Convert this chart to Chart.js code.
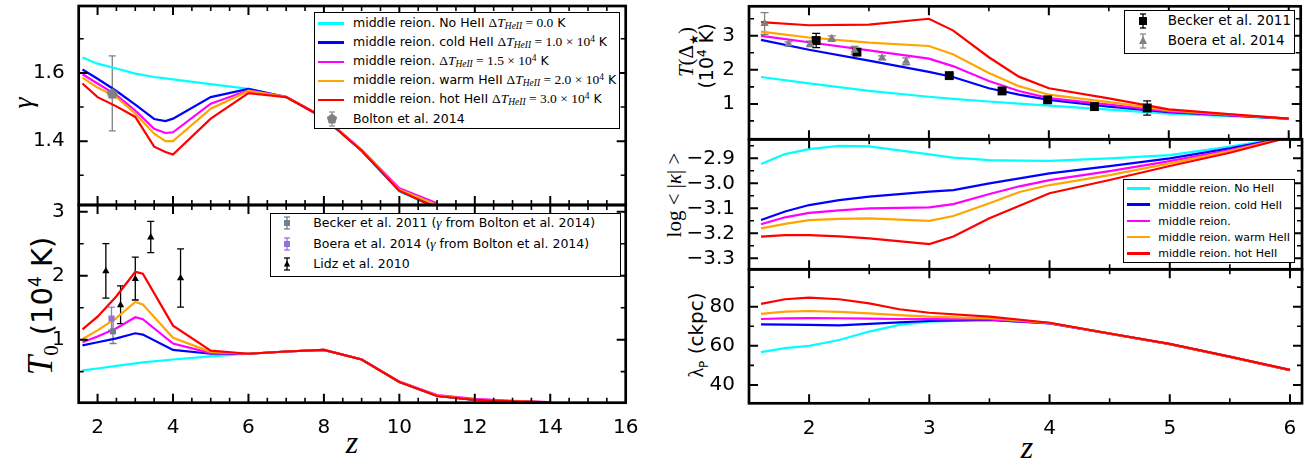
<!DOCTYPE html>
<html><head><meta charset="utf-8">
<script src="https://cdn.jsdelivr.net/npm/chart.js@4.4.1/dist/chart.umd.min.js"></script>
<style>
html,body{margin:0;padding:0;background:#fff;}
body{width:1307px;height:464px;overflow:hidden;position:relative;font-family:"DejaVu Sans",sans-serif;color:#000;}
canvas{position:absolute;}
.ttl{position:absolute;white-space:nowrap;transform:translate(-50%,-50%);line-height:1;}
.rot{transform:translate(-50%,-50%) rotate(-90deg);}
.serif{font-family:"Liberation Serif","DejaVu Serif",serif;}
.legend{position:absolute;border:1px solid #000;background:#fff;box-sizing:border-box;z-index:5;}
.row{position:absolute;left:0;height:0;width:100%;}
.sw{position:absolute;height:2.5px;margin-top:-1.25px;}
.tx{position:absolute;white-space:nowrap;transform:translateY(-50%);line-height:1;}
.mt{font-family:"Liberation Serif",serif;font-size:1.08em;}
.mt sub{font-size:0.7em;vertical-align:-0.25em;font-style:italic;}
.mt sup{font-size:0.7em;vertical-align:0.45em;}
.mk{position:absolute;transform:translate(-50%,-50%);}
</style>
</head><body>

<!-- axis titles -->
<div class="ttl rot serif" style="left:23px;top:103px;font-size:28px;font-style:italic;">γ</div>
<div class="ttl rot" style="left:40px;top:306px;font-size:29px;"><span class="serif" style="font-style:italic;font-size:35px;">T</span><span class="serif" style="font-size:21px;position:relative;top:6px;">0</span><span style="display:inline-block;width:10px;"></span>(10<sup style="font-size:17px;">4</sup> K)</div>
<div class="ttl serif" style="left:352px;top:442px;font-size:32px;font-style:italic;">z</div>
<div class="ttl serif" style="left:1027px;top:447px;font-size:32px;font-style:italic;">z</div>
<div class="ttl rot serif" style="left:688px;top:52px;font-size:21px;"><i>T</i>(Δ<sub style="font-size:12px;">★</sub>)</div>
<div class="ttl rot" style="left:706px;top:56px;font-size:19px;">(10<sup style="font-size:12px;">4</sup> K)</div>
<div class="ttl rot serif" style="left:674px;top:195px;font-size:21px;">log &lt; |<i>κ</i>| &gt;</div>
<div class="ttl rot" style="left:698px;top:335px;font-size:20px;"><span class="serif">λ</span><sub style="font-size:12px;">P</sub> (ckpc)</div>

<!-- legends -->
<div class="legend" style="left:314px;top:12px;width:306px;height:117px;font-size:12.5px;">
  <div class="row" style="top:10.5px"><div class="sw" style="left:3px;width:26px;background:#00ffff"></div><span class="tx" style="left:38px">middle reion. No HeII <span class="mt">Δ<i>T</i><sub>HeII</sub> = 0.0</span> K</span></div>
  <div class="row" style="top:29.7px"><div class="sw" style="left:3px;width:26px;background:#0000ff"></div><span class="tx" style="left:38px">middle reion. cold HeII <span class="mt">Δ<i>T</i><sub>HeII</sub> = 1.0 × 10<sup>4</sup></span> K</span></div>
  <div class="row" style="top:48.8px"><div class="sw" style="left:3px;width:26px;background:#ff00ff"></div><span class="tx" style="left:38px">middle reion. <span class="mt">Δ<i>T</i><sub>HeII</sub> = 1.5 × 10<sup>4</sup></span> K</span></div>
  <div class="row" style="top:68px"><div class="sw" style="left:3px;width:26px;background:#ffa500"></div><span class="tx" style="left:38px">middle reion. warm HeII <span class="mt">Δ<i>T</i><sub>HeII</sub> = 2.0 × 10<sup>4</sup></span> K</span></div>
  <div class="row" style="top:87.1px"><div class="sw" style="left:3px;width:26px;background:#ff0000"></div><span class="tx" style="left:38px">middle reion. hot HeII <span class="mt">Δ<i>T</i><sub>HeII</sub> = 3.0 × 10<sup>4</sup></span> K</span></div>
  <div class="row" style="top:106.3px"><svg class="mk" style="left:16.5px" width="14" height="16" viewBox="0 0 14 16"><line x1="7" y1="1" x2="7" y2="15" stroke="#888" stroke-width="1.2"/><line x1="4" y1="1" x2="10" y2="1" stroke="#888" stroke-width="1.2"/><line x1="4" y1="15" x2="10" y2="15" stroke="#888" stroke-width="1.2"/><polygon points="7,2.5 12.2,6.3 10.2,12.4 3.8,12.4 1.8,6.3" fill="#808080"/></svg><span class="tx" style="left:38px">Bolton et al. 2014</span></div>
</div>

<div class="legend" style="left:270px;top:213px;width:351px;height:64px;font-size:12.5px;">
  <div class="row" style="top:9.3px"><svg class="mk" style="left:16.3px" width="10" height="14" viewBox="0 0 10 14"><line x1="5" y1="1" x2="5" y2="13" stroke="#708090" stroke-width="1.3"/><line x1="2" y1="1" x2="8" y2="1" stroke="#708090" stroke-width="1.3"/><line x1="2" y1="13" x2="8" y2="13" stroke="#708090" stroke-width="1.3"/><rect x="2" y="4" width="6" height="6" fill="#708090"/></svg><span class="tx" style="left:42.3px">Becker et al. 2011 (<span class="mt"><i>γ</i></span> from Bolton et al. 2014)</span></div>
  <div class="row" style="top:30px"><svg class="mk" style="left:16.3px" width="10" height="14" viewBox="0 0 10 14"><line x1="5" y1="1" x2="5" y2="13" stroke="#9370db" stroke-width="1.3"/><line x1="2" y1="1" x2="8" y2="1" stroke="#9370db" stroke-width="1.3"/><line x1="2" y1="13" x2="8" y2="13" stroke="#9370db" stroke-width="1.3"/><rect x="2" y="4" width="6" height="6" fill="#9370db"/></svg><span class="tx" style="left:42.3px">Boera et al. 2014 (<span class="mt"><i>γ</i></span> from Bolton et al. 2014)</span></div>
  <div class="row" style="top:50.3px"><svg class="mk" style="left:16.3px" width="10" height="14" viewBox="0 0 10 14"><line x1="5" y1="1" x2="5" y2="13" stroke="#000" stroke-width="1.3"/><line x1="2" y1="1" x2="8" y2="1" stroke="#000" stroke-width="1.3"/><line x1="2" y1="13" x2="8" y2="13" stroke="#000" stroke-width="1.3"/><polygon points="5,3.5 8.2,9.5 1.8,9.5" fill="#000"/></svg><span class="tx" style="left:42.3px">Lidz et al. 2010</span></div>
</div>

<div class="legend" style="left:1124px;top:10px;width:171px;height:44px;font-size:13.5px;">
  <div class="row" style="top:10.3px"><svg class="mk" style="left:18.3px" width="12" height="18" viewBox="0 0 12 18"><line x1="6" y1="2" x2="6" y2="16" stroke="#000" stroke-width="1.3"/><line x1="3" y1="2" x2="9" y2="2" stroke="#000" stroke-width="1.3"/><line x1="3" y1="16" x2="9" y2="16" stroke="#000" stroke-width="1.3"/><rect x="2" y="5" width="8" height="8" fill="#000"/></svg><span class="tx" style="left:42.7px">Becker et al. 2011</span></div>
  <div class="row" style="top:29.7px"><svg class="mk" style="left:18.3px" width="12" height="18" viewBox="0 0 12 18"><line x1="6" y1="2" x2="6" y2="16" stroke="#888" stroke-width="1.3"/><line x1="3" y1="2" x2="9" y2="2" stroke="#888" stroke-width="1.3"/><line x1="3" y1="16" x2="9" y2="16" stroke="#888" stroke-width="1.3"/><polygon points="6,4 10,12 2,12" fill="#808080"/></svg><span class="tx" style="left:42.7px">Boera et al. 2014</span></div>
</div>

<div class="legend" style="left:1123px;top:179.3px;width:172px;height:84px;font-size:11px;">
  <div class="row" style="top:8px"><div class="sw" style="left:2.7px;width:23.3px;background:#00ffff"></div><span class="tx" style="left:34.3px">middle reion. No HeII</span></div>
  <div class="row" style="top:24.25px"><div class="sw" style="left:2.7px;width:23.3px;background:#0000ff"></div><span class="tx" style="left:34.3px">middle reion. cold HeII</span></div>
  <div class="row" style="top:40.5px"><div class="sw" style="left:2.7px;width:23.3px;background:#ff00ff"></div><span class="tx" style="left:34.3px">middle reion.</span></div>
  <div class="row" style="top:56.75px"><div class="sw" style="left:2.7px;width:23.3px;background:#ffa500"></div><span class="tx" style="left:34.3px">middle reion. warm HeII</span></div>
  <div class="row" style="top:73px"><div class="sw" style="left:2.7px;width:23.3px;background:#ff0000"></div><span class="tx" style="left:34.3px">middle reion. hot HeII</span></div>
</div>

<script>
// ---------------- DATA ----------------
const seriesNames = ['middle reion. No HeII', 'middle reion. cold HeII', 'middle reion.', 'middle reion. warm HeII', 'middle reion. hot HeII'];
const seriesColors = ['#00ffff', '#0000ff', '#ff00ff', '#ffa500', '#ff0000'];

// Left top: gamma vs z
const zGamma = [1.6, 2.0, 2.5, 3.0, 3.5, 3.8, 4.0, 5.0, 6.0, 7.0, 8.0, 9.0, 10.0, 11.0];
const gammaNo   = [1.645, 1.627, 1.613, 1.598, 1.588, 1.584, 1.581, 1.567, 1.553, 1.529, 1.468, 1.372, 1.252, 1.205];
const gammaCold = [1.610, 1.583, 1.547, 1.507, 1.465, 1.459, 1.466, 1.529, 1.553, 1.529, 1.468, 1.372, 1.255, 1.206];
const gammaMid  = [1.596, 1.569, 1.535, 1.490, 1.436, 1.424, 1.426, 1.510, 1.549, 1.530, 1.470, 1.375, 1.262, 1.218];
const gammaWarm = [1.586, 1.557, 1.529, 1.481, 1.422, 1.400, 1.400, 1.495, 1.547, 1.530, 1.469, 1.373, 1.258, 1.213];
const gammaHot  = [1.569, 1.529, 1.502, 1.471, 1.384, 1.368, 1.361, 1.466, 1.541, 1.529, 1.468, 1.372, 1.255, 1.203];
const boltonZ = [2.39], boltonGamma = [1.54], boltonErr = [0.11];

// Left bottom: T0 (1e4 K) vs z
const zT0 = [1.6, 2.0, 2.5, 3.0, 3.2, 4.0, 5.0, 6.0, 7.0, 8.0, 9.0, 10.0, 11.0, 12.0, 13.0, 14.0];
const t0No   = [0.52, 0.55, 0.59, 0.63, 0.645, 0.69, 0.74, 0.78, 0.815, 0.84, 0.69, 0.34, 0.12, 0.06, 0.035, 0.02];
const t0Cold = [0.91, 0.96, 1.02, 1.10, 1.08, 0.84, 0.78, 0.78, 0.815, 0.84, 0.69, 0.34, 0.12, 0.06, 0.035, 0.02];
const t0Mid  = [0.96, 1.05, 1.18, 1.35, 1.32, 0.94, 0.79, 0.78, 0.815, 0.84, 0.69, 0.345, 0.135, 0.075, 0.045, 0.025];
const t0Warm = [1.01, 1.145, 1.34, 1.59, 1.55, 1.03, 0.81, 0.78, 0.815, 0.84, 0.69, 0.34, 0.125, 0.065, 0.04, 0.02];
const t0Hot  = [1.16, 1.36, 1.68, 2.06, 2.03, 1.22, 0.83, 0.78, 0.815, 0.84, 0.69, 0.34, 0.12, 0.06, 0.035, 0.02];
const beckerT0Z = [2.41], beckerT0 = [1.13], beckerT0Err = [0.19];
const boeraT0Z = [2.37], boeraT0 = [1.33], boeraT0Err = [0.18];
const lidzZ = [2.22, 2.61, 3.0, 3.41, 4.20];
const lidzT0 = [2.07, 1.54, 1.95, 2.60, 1.96];
const lidzErrHi = [0.43, 0.30, 0.34, 0.25, 0.46];
const lidzErrLo = [0.42, 0.29, 0.33, 0.24, 0.45];

// Right top: T(Delta*) (1e4 K) vs z
const zTD = [1.6, 2.0, 2.5, 3.0, 3.2, 3.5, 3.75, 4.0, 4.5, 5.0, 5.5, 6.0];
const tdNo   = [1.79, 1.60, 1.38, 1.21, 1.15, 1.07, 1.01, 0.95, 0.83, 0.71, 0.64, 0.57];
const tdCold = [2.88, 2.59, 2.27, 1.94, 1.79, 1.46, 1.27, 1.12, 0.92, 0.76, 0.66, 0.57];
const tdMid  = [3.00, 2.81, 2.57, 2.33, 2.11, 1.67, 1.38, 1.17, 0.98, 0.78, 0.67, 0.57];
const tdWarm = [3.12, 2.95, 2.80, 2.70, 2.46, 1.91, 1.52, 1.27, 1.05, 0.81, 0.69, 0.57];
const tdHot  = [3.40, 3.31, 3.33, 3.50, 3.16, 2.37, 1.80, 1.46, 1.16, 0.84, 0.70, 0.57];
const beckerZ = [2.06, 2.40, 3.17, 3.61, 3.99, 4.38, 4.82];
const beckerT = [2.86, 2.52, 1.83, 1.38, 1.12, 0.92, 0.88];
const beckerErr = [0.21, 0.09, 0.07, 0.06, 0.06, 0.06, 0.21];
const boeraZ = [1.63, 1.83, 2.01, 2.19, 2.38, 2.61, 2.81];
const boeraT = [3.36, 2.76, 2.76, 2.92, 2.57, 2.35, 2.25];
const boeraErr = [0.32, 0.06, 0.08, 0.08, 0.12, 0.06, 0.10];

// Right middle: log <|kappa|> vs z
const zK = [1.6, 1.8, 2.0, 2.25, 2.5, 3.0, 3.2, 3.5, 3.75, 4.0, 4.5, 5.0, 5.5, 6.0];
const kNo   = [-2.923, -2.883, -2.863, -2.850, -2.852, -2.884, -2.897, -2.907, -2.909, -2.910, -2.900, -2.887, -2.853, -2.815];
const kCold = [-3.147, -3.113, -3.087, -3.067, -3.053, -3.033, -3.027, -3.000, -2.980, -2.960, -2.931, -2.900, -2.860, -2.815];
const kMid  = [-3.164, -3.136, -3.118, -3.108, -3.100, -3.096, -3.083, -3.043, -3.012, -2.987, -2.951, -2.911, -2.867, -2.815];
const kWarm = [-3.180, -3.162, -3.147, -3.142, -3.140, -3.150, -3.131, -3.080, -3.035, -3.007, -2.967, -2.920, -2.871, -2.815];
const kHot  = [-3.213, -3.207, -3.207, -3.212, -3.220, -3.243, -3.213, -3.140, -3.090, -3.040, -2.987, -2.931, -2.878, -2.815];

// Right bottom: lambda_P (ckpc) vs z
const zL = [1.6, 1.8, 2.0, 2.25, 2.5, 2.75, 3.0, 3.5, 4.0, 4.5, 5.0, 5.5, 6.0];
const lNo   = [56.8, 58.8, 60.0, 63.0, 67.3, 70.7, 72.4, 73.2, 71.6, 66.2, 61.0, 54.5, 47.7];
const lCold = [71.0, 70.8, 70.7, 70.5, 71.2, 72.0, 72.7, 73.2, 71.5, 66.2, 60.9, 54.4, 47.6];
const lMid  = [73.7, 74.0, 74.2, 74.1, 73.9, 73.7, 73.6, 73.5, 71.6, 66.2, 60.9, 54.4, 47.6];
const lWarm = [76.3, 77.5, 77.8, 77.4, 76.6, 75.7, 74.9, 74.1, 71.7, 66.2, 60.9, 54.4, 47.6];
const lHot  = [81.4, 83.8, 84.6, 83.8, 81.7, 78.7, 76.9, 74.9, 71.8, 66.3, 61.0, 54.5, 47.7];

// Tick values / labels
const xTicksLeft = [2, 4, 6, 8, 10, 12, 14, 16];
const xTickLabelsLeft = ['2', '4', '6', '8', '10', '12', '14', '16'];
const xMinorLeft = [2.5, 3, 3.5, 4.5, 5, 5.5, 6.5, 7, 7.5, 8.5, 9, 9.5, 10.5, 11, 11.5, 12.5, 13, 13.5, 14.5, 15, 15.5];
const xTicksRight = [2, 3, 4, 5, 6];
const xTickLabelsRight = ['2', '3', '4', '5', '6'];
const xMinorRight = [1.5, 2.5, 3.5, 4.5, 5.5];
const gammaTicks = [1.4, 1.6], gammaTickLabels = ['1.4', '1.6'], gammaMinor = [1.3, 1.5, 1.7];
const t0Ticks = [1, 2, 3], t0TickLabels = ['1', '2', '3'], t0Minor = [0.5, 1.5, 2.5];
const tdTicks = [1, 2, 3], tdTickLabels = ['1', '2', '3'], tdMinor = [0.5, 1.5, 2.5, 3.5];
const kTicks = [-3.3, -3.2, -3.1, -3.0, -2.9], kTickLabels = ['\u22123.3', '\u22123.2', '\u22123.1', '\u22123.0', '\u22122.9'];
const kMinor = [-3.25, -3.15, -3.05, -2.95, -2.85];
const lTicks = [40, 60, 80], lTickLabels = ['40', '60', '80'], lMinor = [50, 70, 90];

// ---------------- PLUGINS ----------------
const frameTicks = {
  id: 'frameTicks',
  afterDraw(chart, args, o) {
    const {ctx, chartArea: a} = chart;
    const x = chart.scales.x, y = chart.scales.y;
    ctx.save();
    ctx.strokeStyle = '#000';
    const tick = (vals, len, lw, isX) => {
      ctx.lineWidth = lw;
      ctx.beginPath();
      vals.forEach(v => {
        if (isX) {
          const p = x.getPixelForValue(v);
          if (p < a.left + 1 || p > a.right - 1) return;
          ctx.moveTo(p, a.bottom); ctx.lineTo(p, a.bottom - len);
          ctx.moveTo(p, a.top); ctx.lineTo(p, a.top + len);
        } else {
          const p = y.getPixelForValue(v);
          if (p < a.top + 1 || p > a.bottom - 1) return;
          ctx.moveTo(a.left, p); ctx.lineTo(a.left + len, p);
          ctx.moveTo(a.right, p); ctx.lineTo(a.right - len, p);
        }
      });
      ctx.stroke();
    };
    tick(o.xMajor, 9, 2, true); tick(o.xMinor, 5, 1.6, true);
    tick(o.yMajor, 9, 2, false); tick(o.yMinor, 5, 1.6, false);
    ctx.lineWidth = 2.7;
    ctx.strokeRect(a.left, a.top, a.right - a.left, a.bottom - a.top);
    ctx.restore();
  }
};
const errorBars = {
  id: 'errorBars',
  beforeDatasetsDraw(chart) {
    const {ctx} = chart;
    const x = chart.scales.x, y = chart.scales.y;
    chart.data.datasets.forEach(ds => {
      if (!ds.errLo) return;
      ctx.save();
      ctx.strokeStyle = ds.errColor; ctx.lineWidth = 1.3;
      ds.data.forEach((p, j) => {
        const px = x.getPixelForValue(p.x);
        const y1 = y.getPixelForValue(p.y - ds.errLo[j]);
        const y2 = y.getPixelForValue(p.y + ds.errHi[j]);
        const c = ds.capHalf;
        ctx.beginPath();
        ctx.moveTo(px, y1); ctx.lineTo(px, y2);
        ctx.moveTo(px - c, y1); ctx.lineTo(px + c, y1);
        ctx.moveTo(px - c, y2); ctx.lineTo(px + c, y2);
        ctx.stroke();
      });
      ctx.restore();
    });
  }
};

// ---------------- HELPERS ----------------
const pts = (xs, ys) => xs.map((v, i) => ({x: v, y: ys[i]}));
function lineSets(xs, arrs) {
  // higher order is drawn first: cyan at the bottom, red on top
  return arrs.map((ys, i) => ({
    label: seriesNames[i], data: pts(xs, ys), borderColor: seriesColors[i], backgroundColor: seriesColors[i],
    borderWidth: 2.2, pointRadius: 0, fill: false, tension: 0, clip: 0, order: 20 - i
  }));
}
function markerSet(label, xs, ys, lo, hi, color, style, radius, cap, order) {
  return {label, data: pts(xs, ys), showLine: false, pointStyle: style, pointRadius: radius,
    backgroundColor: color, borderColor: color, borderWidth: 0, clip: false, order,
    errLo: lo, errHi: hi, errColor: color, capHalf: cap};
}
function pentagon(r, color) {
  const c = document.createElement('canvas'); const s = Math.ceil(2 * r + 2);
  c.width = c.height = s;
  const g = c.getContext('2d'); g.fillStyle = color; g.beginPath();
  for (let k = 0; k < 5; k++) {
    const an = -Math.PI / 2 + k * 2 * Math.PI / 5;
    const px = s / 2 + r * Math.cos(an), py = s / 2 + 0.5 + r * Math.sin(an);
    k ? g.lineTo(px, py) : g.moveTo(px, py);
  }
  g.closePath(); g.fill(); return c;
}
const tickFont = {family: 'DejaVu Sans', size: 20};
function makePanel(box, area, xr, yr, xt, yt, datasets, showX) {
  const cv = document.createElement('canvas');
  cv.width = box.w; cv.height = box.h;
  cv.style.left = box.x + 'px'; cv.style.top = box.y + 'px';
  cv.style.width = box.w + 'px'; cv.style.height = box.h + 'px';
  document.body.appendChild(cv);
  return new Chart(cv, {
    type: 'line',
    data: {datasets},
    options: {
      responsive: false, animation: false, devicePixelRatio: 1, events: [],
      layout: {padding: {left: 0, right: box.x + box.w - area.r, top: area.t - box.y, bottom: 0}},
      plugins: {legend: {display: false}, tooltip: {enabled: false},
        frameTicks: {xMajor: xt.vals, xMinor: xt.minor, yMajor: yt.vals, yMinor: yt.minor}},
      scales: {
        x: {type: 'linear', min: xr[0], max: xr[1], grid: {display: false}, border: {display: false},
          afterBuildTicks: s => { s.ticks = xt.vals.map(v => ({value: v})); },
          afterFit: s => { s.height = box.y + box.h - area.b; s.paddingLeft = 0; s.paddingRight = 0; s.paddingTop = 0; s.paddingBottom = 0; },
          ticks: {display: showX, autoSkip: false, maxRotation: 0, padding: 5, color: '#000', font: tickFont,
            callback: (v, i) => xt.labels[i]}},
        y: {type: 'linear', min: yr[0], max: yr[1], grid: {display: false}, border: {display: false},
          afterBuildTicks: s => { s.ticks = yt.vals.map(v => ({value: v})); },
          afterFit: s => { s.width = area.l - box.x; s.paddingLeft = 0; s.paddingRight = 0; s.paddingTop = 0; s.paddingBottom = 0; },
          ticks: {autoSkip: false, padding: 6, color: '#000', font: tickFont,
            callback: (v, i) => yt.labels[i]}}
      }
    },
    plugins: [errorBars, frameTicks]
  });
}

const xLeft = {vals: xTicksLeft, labels: xTickLabelsLeft, minor: xMinorLeft};
const xRight = {vals: xTicksRight, labels: xTickLabelsRight, minor: xMinorRight};

// Left top: gamma
makePanel({x: 0, y: 0, w: 640, h: 215}, {l: 78.7, t: 5.7, r: 625.7, b: 205},
  [1.5, 16], [1.213, 1.796], xLeft, {vals: gammaTicks, labels: gammaTickLabels, minor: gammaMinor},
  [...lineSets(zGamma, [gammaNo, gammaCold, gammaMid, gammaWarm, gammaHot]),
   markerSet('Bolton et al. 2014', boltonZ, boltonGamma, boltonErr, boltonErr, '#808080', pentagon(6, '#808080'), 6, 3.5, 1)],
  false);

// Left bottom: T0
makePanel({x: 0, y: 195, w: 640, h: 240}, {l: 78.7, t: 205, r: 625.7, b: 402.7},
  [1.5, 16], [0.015, 3.105], xLeft, {vals: t0Ticks, labels: t0TickLabels, minor: t0Minor},
  [...lineSets(zT0, [t0No, t0Cold, t0Mid, t0Warm, t0Hot]),
   markerSet('Becker et al. 2011 (γ from Bolton et al. 2014)', beckerT0Z, beckerT0, beckerT0Err, beckerT0Err, '#708090', 'rect', 4.3, 3.5, 3),
   markerSet('Boera et al. 2014 (γ from Bolton et al. 2014)', boeraT0Z, boeraT0, boeraT0Err, boeraT0Err, '#9370db', 'rect', 4.3, 3.5, 2),
   markerSet('Lidz et al. 2010', lidzZ, lidzT0, lidzErrLo, lidzErrHi, '#000000', 'triangle', 4.2, 3.5, 1)],
  true);

// Right top: T(Delta*)
makePanel({x: 660, y: 0, w: 647, h: 150}, {l: 749, t: 4, r: 1302, b: 139.3},
  [1.5, 6.1], [-0.04, 3.866], xRight, {vals: tdTicks, labels: tdTickLabels, minor: tdMinor},
  [...lineSets(zTD, [tdNo, tdCold, tdMid, tdWarm, tdHot]),
   markerSet('Becker et al. 2011', beckerZ, beckerT, beckerErr, beckerErr, '#000000', 'rect', 6.3, 4, 2),
   markerSet('Boera et al. 2014', boeraZ, boeraT, boeraErr, boeraErr, '#808080', 'triangle', 4.8, 4, 1)],
  false);

// Right middle: log <|kappa|>
makePanel({x: 660, y: 130, w: 647, h: 150}, {l: 749, t: 139.3, r: 1302, b: 269.3},
  [1.5, 6.1], [-3.344, -2.824], xRight, {vals: kTicks, labels: kTickLabels, minor: kMinor},
  lineSets(zK, [kNo, kCold, kMid, kWarm, kHot]), false);

// Right bottom: lambda_P
makePanel({x: 660, y: 260, w: 647, h: 200}, {l: 749, t: 269.3, r: 1302, b: 403.3},
  [1.5, 6.1], [30.65, 99.1], xRight, {vals: lTicks, labels: lTickLabels, minor: lMinor},
  lineSets(zL, [lNo, lCold, lMid, lWarm, lHot]), true);
</script>
</body></html>
